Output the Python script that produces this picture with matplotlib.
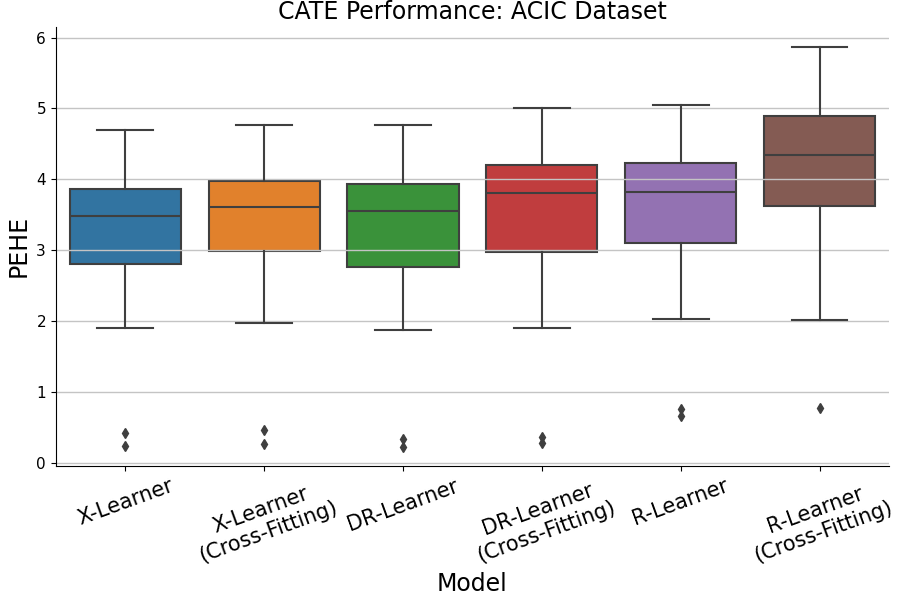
import matplotlib
matplotlib.use("Agg")
import matplotlib.pyplot as plt

# PEHE summary statistics per model
models = ["X-Learner", "X-Learner\n(Cross-Fitting)", "DR-Learner",
          "DR-Learner\n(Cross-Fitting)", "R-Learner", "R-Learner\n(Cross-Fitting)"]
whis_lo = [1.90, 1.98, 1.88, 1.90, 2.03, 2.01]
q1 = [2.81, 2.99, 2.76, 2.98, 3.10, 3.63]
median = [3.48, 3.61, 3.56, 3.81, 3.82, 4.35]
q3 = [3.86, 3.98, 3.94, 4.20, 4.23, 4.90]
whis_hi = [4.69, 4.77, 4.76, 5.00, 5.05, 5.86]
outliers = [[0.42, 0.24], [0.47, 0.27], [0.34, 0.23],
            [0.36, 0.28], [0.76, 0.66], [0.78]]

colors = ["#3274a1", "#e1812c", "#3a923a", "#c03d3e", "#9372b2", "#845b53"]
line_color = "#3f3f3f"

stats = []
for i, name in enumerate(models):
    stats.append({"label": name, "whislo": whis_lo[i], "q1": q1[i], "med": median[i],
                  "q3": q3[i], "whishi": whis_hi[i], "fliers": outliers[i]})

fig = plt.figure(figsize=(8.99, 5.98), dpi=100)
ax = fig.add_axes([0.062, 0.221, 0.927, 0.734])

bp = ax.bxp(stats, positions=range(len(models)), widths=0.8, patch_artist=True,
            boxprops=dict(linewidth=1.5, edgecolor=line_color),
            whiskerprops=dict(linewidth=1.5, color=line_color),
            capprops=dict(linewidth=1.5, color=line_color),
            medianprops=dict(linewidth=1.5, color=line_color),
            flierprops=dict(marker="d", markersize=5, markerfacecolor=line_color,
                            markeredgecolor=line_color, linestyle="none"))
for box, c in zip(bp["boxes"], colors):
    box.set_facecolor(c)
    box.set_zorder(1)
for cap in bp["caps"]:
    xd = cap.get_xdata()
    mid = (xd[0] + xd[1]) / 2
    cap.set_xdata([mid - 0.2, mid + 0.2])

ax.grid(axis="y", color="#c4c4c4", linewidth=1.0)
ax.set_xlim(-0.5, 5.5)
ax.set_ylim(-0.04, 6.15)
ax.spines["top"].set_visible(False)
ax.spines["right"].set_visible(False)

ax.set_xticks(range(len(models)))
ax.set_xticklabels(models, rotation=20, fontsize=15)
ax.tick_params(axis="y", labelsize=11)
ax.set_xlabel("Model", fontsize=17)
ax.set_ylabel("PEHE", fontsize=17)
ax.set_title("CATE Performance: ACIC Dataset", fontsize=17)

fig.savefig("out.png", dpi=100)
